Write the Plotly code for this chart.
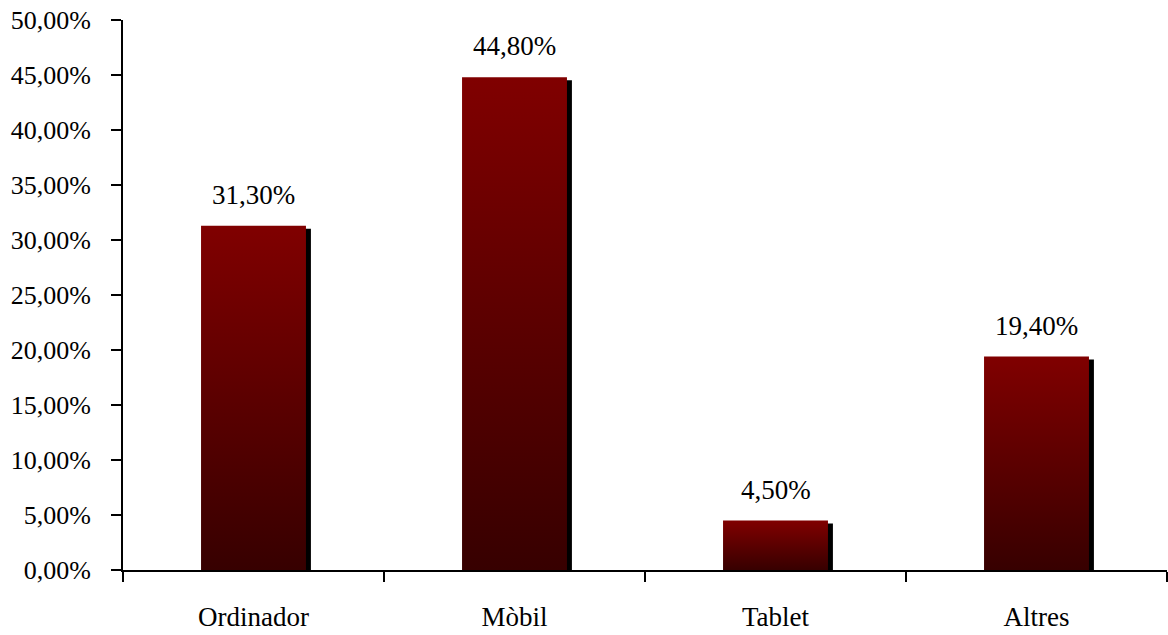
import plotly.graph_objects as go

categories = ["Ordinador", "Mòbil", "Tablet", "Altres"]
values = [31.3, 44.8, 4.5, 19.4]
y_ticks = [0, 5, 10, 15, 20, 25, 30, 35, 40, 45, 50]
y_tick_labels = [f"{t:.2f}".replace(".", ",") + "%" for t in y_ticks]
value_labels = [f"{v:.2f}".replace(".", ",") + "%" for v in values]

FONT = "Liberation Serif, Times New Roman, serif"
TOP = "#800000"
BOTTOM = "#370000"
HALF = 0.201
SHADOW_DX = 0.019
SHADOW_DY = 0.27

fig = go.Figure()

pos = list(range(len(categories)))

# shadow bars
fig.add_trace(go.Bar(
    x=[p + SHADOW_DX for p in pos], y=values, base=[-SHADOW_DY] * len(values),
    width=[2 * HALF] * len(values), marker=dict(color="black", line=dict(width=0)),
    hoverinfo="skip", showlegend=False,
))

# gradient bars
for p, v in zip(pos, values):
    fig.add_trace(go.Scatter(
        x=[p - HALF, p + HALF, p + HALF, p - HALF, p - HALF],
        y=[0, 0, v, v, 0],
        mode="lines", line=dict(width=0, color=TOP),
        fill="toself",
        fillgradient=dict(type="vertical", colorscale=[[0, BOTTOM], [1, TOP]]),
        showlegend=False, hoverinfo="skip",
    ))

for p, v, lab in zip(pos, values, value_labels):
    fig.add_annotation(
        x=p, y=v, text=lab,
        showarrow=False, yanchor="bottom", yshift=14,
        font=dict(family=FONT, size=27, color="black"),
    )

fig.update_layout(
    width=1168, height=635,
    margin=dict(l=123, r=1, t=20, b=65, autoexpand=False),
    paper_bgcolor="white", plot_bgcolor="white",
    font=dict(family=FONT, size=27, color="black"),
    barmode="overlay",
    showlegend=False,
    xaxis=dict(
        range=[-0.5, len(categories) - 0.5],
        tickmode="array", tickvals=pos, ticktext=categories,
        ticks="", ticklen=0, showgrid=False, zeroline=False,
        showline=True, linecolor="black", linewidth=2,
        ticklabelstandoff=22, automargin=False,
        tickfont=dict(family=FONT, size=27, color="black"),
        minor=dict(tickmode="array", tickvals=[p - 0.5 for p in pos] + [len(categories) - 0.5],
                   ticks="outside", ticklen=10, tickwidth=2, tickcolor="black"),
    ),
    yaxis=dict(
        range=[0, 50], tickmode="array", tickvals=y_ticks, ticktext=y_tick_labels,
        ticks="outside", ticklen=10, tickwidth=2, tickcolor="black",
        showgrid=False, zeroline=False,
        showline=True, linecolor="black", linewidth=2,
        ticklabelstandoff=15, automargin=False,
        ticklabeloverflow="allow",
        tickfont=dict(family=FONT, size=26, color="black"),
    ),
)

fig.write_html(
    "out.html",
    config={"displayModeBar": False},
    post_script="document.body.style.margin='0';document.body.style.overflow='hidden';",
)
